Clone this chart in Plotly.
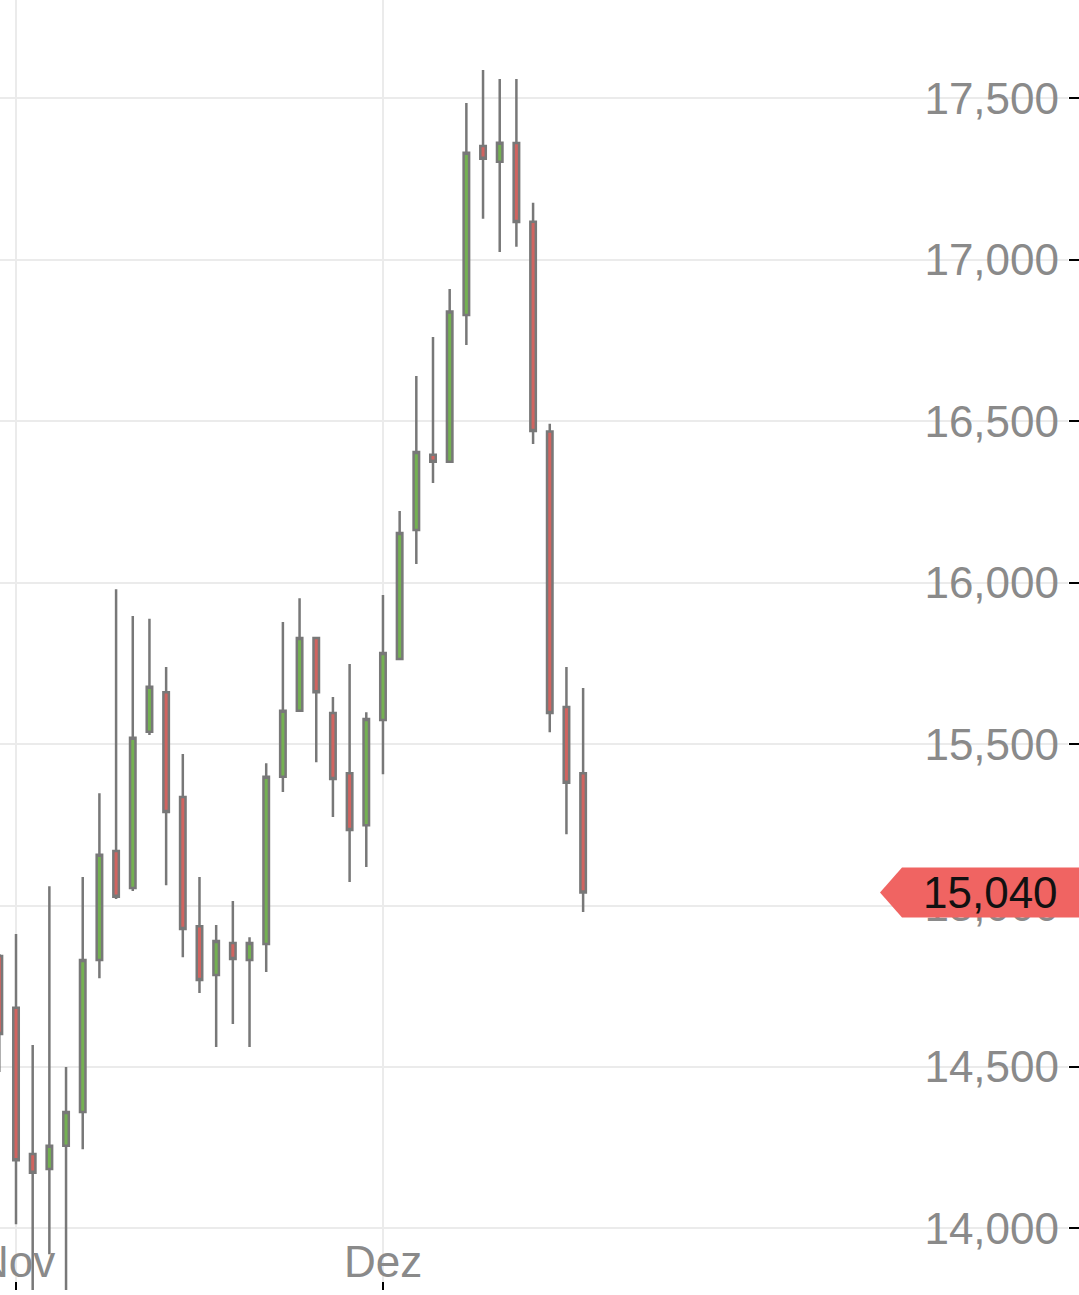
import plotly.graph_objects as go

dates = ["2021-10-29",
         "2021-11-01", "2021-11-02", "2021-11-03", "2021-11-04", "2021-11-05",
         "2021-11-08", "2021-11-09", "2021-11-10", "2021-11-11", "2021-11-12",
         "2021-11-15", "2021-11-16", "2021-11-17", "2021-11-18", "2021-11-19",
         "2021-11-22", "2021-11-23", "2021-11-24", "2021-11-25", "2021-11-26",
         "2021-11-29", "2021-11-30",
         "2021-12-01", "2021-12-02", "2021-12-03", "2021-12-06", "2021-12-07",
         "2021-12-08", "2021-12-09", "2021-12-10", "2021-12-13", "2021-12-14",
         "2021-12-15", "2021-12-16", "2021-12-17"]

open_ = [14844, 14683, 14230, 14184, 14256, 14360, 14831, 15169, 15054, 15538,
         15661, 15336, 14936, 14785, 14884, 14831, 14881, 15399, 15603, 15829,
         15596, 15410, 15249, 15575, 15764, 16163, 16396, 16375, 16829, 17353,
         17304, 17362, 17118, 16468, 15615, 15410]
high = [14850, 14912, 14568, 15060, 14500, 15088, 15348, 15980, 15897, 15888,
        15739, 15469, 15088, 14940, 15014, 14902, 15441, 15878, 15952, 15832,
        15646, 15748, 15599, 15962, 16222, 16640, 16761, 16910, 17486, 17588,
        17560, 17560, 17177, 16492, 15739, 15674]
low = [14484, 14013, 13780, 13920, 13760, 14245, 14775, 15020, 15045, 15528,
       15063, 14840, 14729, 14562, 14633, 14562, 14794, 15352, 15600, 15444,
       15274, 15073, 15119, 15407, 15760, 16058, 16309, 16372, 16736, 17127,
       17024, 17041, 16430, 15537, 15221, 14980]
close = [14602, 14211, 14172, 14256, 14360, 14831, 15157, 15027, 15520, 15678,
         15290, 14927, 14769, 14890, 14834, 14884, 15399, 15603, 15829, 15661,
         15392, 15234, 15578, 15782, 16154, 16405, 16375, 16840, 17332, 17313,
         17363, 17117, 16470, 15596, 15380, 15040]

x_tick_vals = ["2021-11-01", "2021-12-01"]
x_tick_text = ["Nov", "Dez"]
y_tick_vals = [14000, 14500, 15000, 15500, 16000, 16500, 17000, 17500]

last_label = f"{close[-1]:,}"

OUTLINE = "#787878"
GREEN = "#74b152"
RED = "#d16460"
FLAG = "#f06462"
GRID = "#ebebeb"
LABEL = "#8a8a8a"
FONT = "Liberation Sans, Arial, sans-serif"

fig = go.Figure()
fig.add_trace(go.Candlestick(
    x=dates, open=open_, high=high, low=low, close=close,
    increasing=dict(fillcolor=GREEN, line=dict(color=OUTLINE, width=2.5)),
    decreasing=dict(fillcolor=RED, line=dict(color=OUTLINE, width=2.5)),
    whiskerwidth=0,
    showlegend=False,
))

# x tick labels as annotations so the partially visible "Nov" is kept
for tv, tt in zip(x_tick_vals, x_tick_text):
    fig.add_annotation(
        x=tv, xref="x", y=0, yref="paper", text=tt, showarrow=False,
        xanchor="center", yanchor="bottom", yshift=2,
        font=dict(family=FONT, size=44, color=LABEL),
    )

# price flag for last close
fig.add_shape(
    type="path", xref="paper", xsizemode="pixel", xanchor=1,
    yref="y", ysizemode="pixel", yanchor=close[-1],
    path="M 12,-25 L -166,-25 L -188,0 L -166,25 L 12,25 Z",
    fillcolor=FLAG, line=dict(width=0), layer="above",
)
fig.add_annotation(
    x=1, xref="paper", y=close[-1], yref="y", text=last_label,
    showarrow=False, xanchor="right", yanchor="middle", xshift=-8,
    font=dict(family=FONT, size=44, color="#111111"),
)

fig.update_layout(
    width=1079, height=1295,
    margin=dict(l=0, r=11, t=0, b=5, autoexpand=False),
    paper_bgcolor="white", plot_bgcolor="white",
    boxgap=0.53,
    font=dict(family=FONT),
    xaxis=dict(
        type="category",
        range=[0.04, 64.07],
        rangeslider=dict(visible=False),
        tickvals=x_tick_vals, ticktext=["", ""],
        ticks="inside", ticklen=8, tickwidth=2, tickcolor="#000000",
        showgrid=True, gridcolor=GRID, gridwidth=1.5,
        showline=False, zeroline=False,
    ),
    yaxis=dict(
        side="right",
        range=[13809, 17805],
        tickvals=y_tick_vals,
        tickformat=",",
        ticks="outside", ticklen=10, tickwidth=2, tickcolor="#000000",
        ticklabelposition="inside",
        ticklabelstandoff=6,
        tickfont=dict(family=FONT, size=44, color=LABEL),
        showgrid=True, gridcolor=GRID, gridwidth=1.5,
        showline=False, zeroline=False,
    ),
)

fig.write_html("out.html",
               config={"displayModeBar": False},
               post_script="document.body.style.margin='0';document.body.style.overflow='hidden';")
